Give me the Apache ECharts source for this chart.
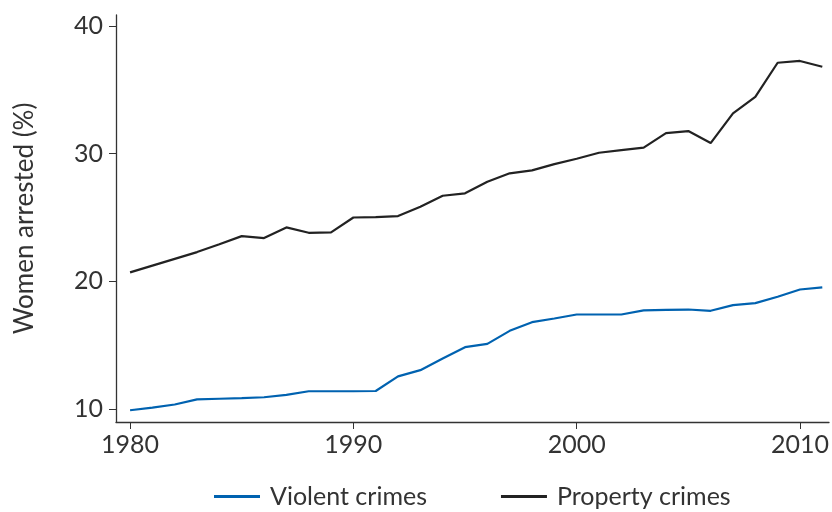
<!DOCTYPE html>
<html><head><meta charset="utf-8">
<script src="https://cdn.jsdelivr.net/npm/echarts@6/dist/echarts.min.js"></script>
<style>html,body{margin:0;padding:0;background:#fff}#c{width:832px;height:512px}</style>
</head><body><div id="c"></div>
<script>
const years = [1980,1981,1982,1983,1984,1985,1986,1987,1988,1989,1990,1991,1992,1993,1994,1995,1996,1997,1998,1999,2000,2001,2002,2003,2004,2005,2006,2007,2008,2009,2010,2011];
const violent = [9.9,10.1,10.35,10.75,10.8,10.85,10.92,11.1,11.39,11.39,11.39,11.41,12.55,13.04,13.96,14.84,15.1,16.12,16.8,17.09,17.4,17.4,17.4,17.72,17.76,17.79,17.69,18.13,18.29,18.79,19.36,19.52];
const property = [20.7,21.23,21.76,22.29,22.9,23.54,23.39,24.22,23.8,23.83,25.0,25.03,25.11,25.84,26.7,26.89,27.8,28.46,28.69,29.18,29.6,30.07,30.28,30.47,31.61,31.77,30.83,33.16,34.44,37.12,37.26,36.81];
const xTicks = [1980,1990,2000,2010];
const yTicks = [10,20,30,40];
const seriesNames = ['Violent crimes','Property crimes'];

const font = 'Lato, "Open Sans", sans-serif';
const chart = echarts.init(document.getElementById('c'), null, {renderer:'canvas'});
chart.setOption({
  animation:false,
  backgroundColor:'#fff',
  grid:{left:116, right:3, top:15, bottom:90, containLabel:false},
  legend:{
    bottom:-2, left:209, itemWidth:46, itemHeight:3, itemGap:74,
    icon:'rect',
    textStyle:{fontFamily:font, fontSize:25, color:'#333', padding:[0,0,0,5]},
    data:seriesNames
  },
  xAxis:{
    type:'value', min:1979.37, max:2011.3,
    axisLine:{show:true, lineStyle:{color:'#333', width:1.3}},
    axisTick:{show:true, length:7, customValues:xTicks, lineStyle:{color:'#333'}},
    axisLabel:{customValues:xTicks, fontFamily:font, fontSize:25, color:'#333', margin:10, formatter:v=>String(v)},
    splitLine:{show:false}
  },
  yAxis:{
    type:'value', min:8.98, max:40.86,
    name:'Women arrested (%)', nameLocation:'middle', nameGap:78, nameRotate:90,
    nameTextStyle:{fontFamily:font, fontSize:26, color:'#333'},
    axisLine:{show:true, lineStyle:{color:'#333', width:1.3}},
    axisTick:{show:true, length:7, customValues:yTicks, lineStyle:{color:'#333'}},
    axisLabel:{customValues:yTicks, fontFamily:font, fontSize:25, color:'#333', margin:13},
    splitLine:{show:false}
  },
  series:[
    {name:seriesNames[0], type:'line', showSymbol:false, data:years.map((y,i)=>[y,violent[i]]),
     lineStyle:{color:'#0062b0', width:2.2}, itemStyle:{color:'#0062b0'}},
    {name:seriesNames[1], type:'line', showSymbol:false, data:years.map((y,i)=>[y,property[i]]),
     lineStyle:{color:'#222222', width:2.2}, itemStyle:{color:'#222222'}}
  ]
});
</script></body></html>
